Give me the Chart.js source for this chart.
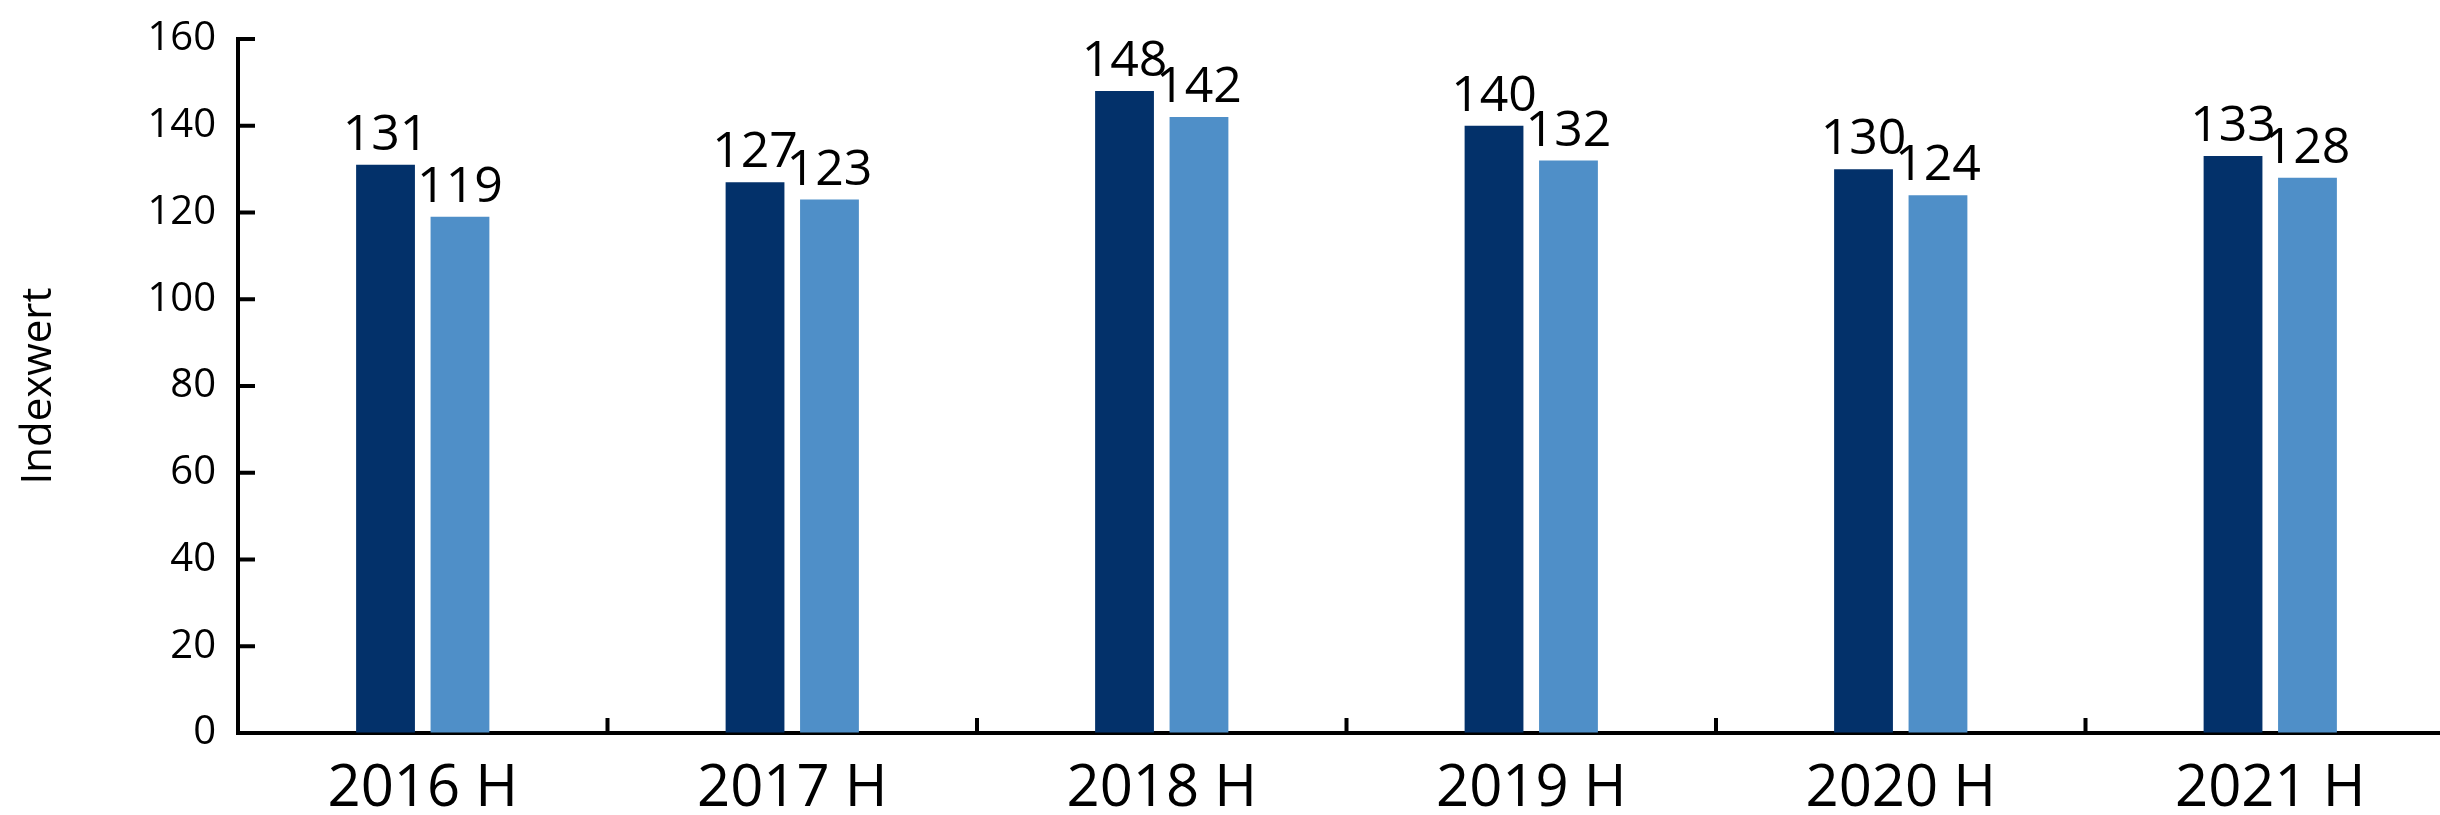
<!DOCTYPE html>
<html>
<head>
<meta charset="utf-8">
<script src="https://cdn.jsdelivr.net/npm/chart.js@4/dist/chart.umd.min.js"></script>
<style>
    html, body { margin: 0; padding: 0; background: #fff; overflow: hidden; }
    #wrap { width: 2455px; height: 815px; }
</style>
</head>
<body>
<div id="wrap"><canvas id="chart" width="2455" height="815"></canvas></div>
<script>
const categories = ['2016 H', '2017 H', '2018 H', '2019 H', '2020 H', '2021 H'];
const darkValues = [131, 127, 148, 140, 130, 133];
const lightValues = [119, 123, 142, 132, 124, 128];
const yTicks = [0, 20, 40, 60, 80, 100, 120, 140, 160];

const fontFamily = '"Open Sans", "DejaVu Sans", sans-serif';

// inward tick marks on both axes
const innerTicks = {
    id: 'innerTicks',
    afterDraw(chart) {
        const ctx = chart.ctx;
        const xs = chart.scales.x;
        const ys = chart.scales.y;
        const area = chart.chartArea;
        ctx.save();
        ctx.strokeStyle = '#000';
        ctx.lineWidth = 4;
        ctx.beginPath();
        yTicks.forEach(v => {
            const py = ys.getPixelForValue(v);
            ctx.moveTo(area.left, py);
            ctx.lineTo(area.left + 17, py);
        });
        for (let i = 1; i < categories.length; i++) {
            const px = (xs.getPixelForValue(i - 1) + xs.getPixelForValue(i)) / 2;
            ctx.moveTo(px, area.bottom);
            ctx.lineTo(px, area.bottom - 15);
        }
        ctx.stroke();
        ctx.restore();
    }
};

// value labels above bars
const barLabels = {
    id: 'barLabels',
    afterDatasetsDraw(chart) {
        const ctx = chart.ctx;
        ctx.save();
        ctx.fillStyle = '#000';
        ctx.font = '50px ' + fontFamily;
        ctx.textAlign = 'center';
        ctx.textBaseline = 'bottom';
        chart.data.datasets.forEach((ds, di) => {
            const meta = chart.getDatasetMeta(di);
            meta.data.forEach((bar, i) => {
                ctx.fillText(String(ds.data[i]), bar.x, bar.y - 4);
            });
        });
        ctx.restore();
    }
};

const ctx = document.getElementById('chart').getContext('2d');
new Chart(ctx, {
    type: 'bar',
    data: {
        labels: categories,
        datasets: [
            {
                label: 'A',
                data: darkValues,
                backgroundColor: '#03316A',
                categoryPercentage: 0.403,
                barPercentage: 0.79
            },
            {
                label: 'B',
                data: lightValues,
                backgroundColor: '#4F8FC8',
                categoryPercentage: 0.403,
                barPercentage: 0.79
            }
        ]
    },
    options: {
        responsive: false,
        animation: false,
        layout: {
            padding: { top: 39, right: 0, bottom: 0, left: 0 }
        },
        plugins: {
            legend: { display: false },
            title: { display: false },
            tooltip: { enabled: false }
        },
        scales: {
            x: {
                grid: { display: true, drawOnChartArea: false, drawTicks: false },
                border: { display: true, color: '#000', width: 4 },
                ticks: {
                    color: '#000',
                    padding: 22,
                    maxRotation: 0,
                    font: { family: fontFamily, size: 58 }
                },
                afterFit(scale) {
                    scale.height = 82;
                    scale.paddingLeft = 0;
                    scale.paddingRight = 0;
                }
            },
            y: {
                min: 0,
                max: 160,
                grid: { display: true, drawOnChartArea: false, drawTicks: false },
                border: { display: true, color: '#000', width: 4 },
                ticks: {
                    stepSize: 20,
                    color: '#000',
                    padding: 22,
                    font: { family: fontFamily, size: 40 }
                },
                title: {
                    display: true,
                    text: 'Indexwert',
                    color: '#000',
                    padding: { top: 14, bottom: 0 },
                    font: { family: fontFamily, size: 42 }
                },
                afterFit(scale) {
                    scale.width = 238;
                    scale.paddingTop = 0;
                    scale.paddingBottom = 0;
                }
            }
        }
    },
    plugins: [innerTicks, barLabels]
});
</script>
</body>
</html>
